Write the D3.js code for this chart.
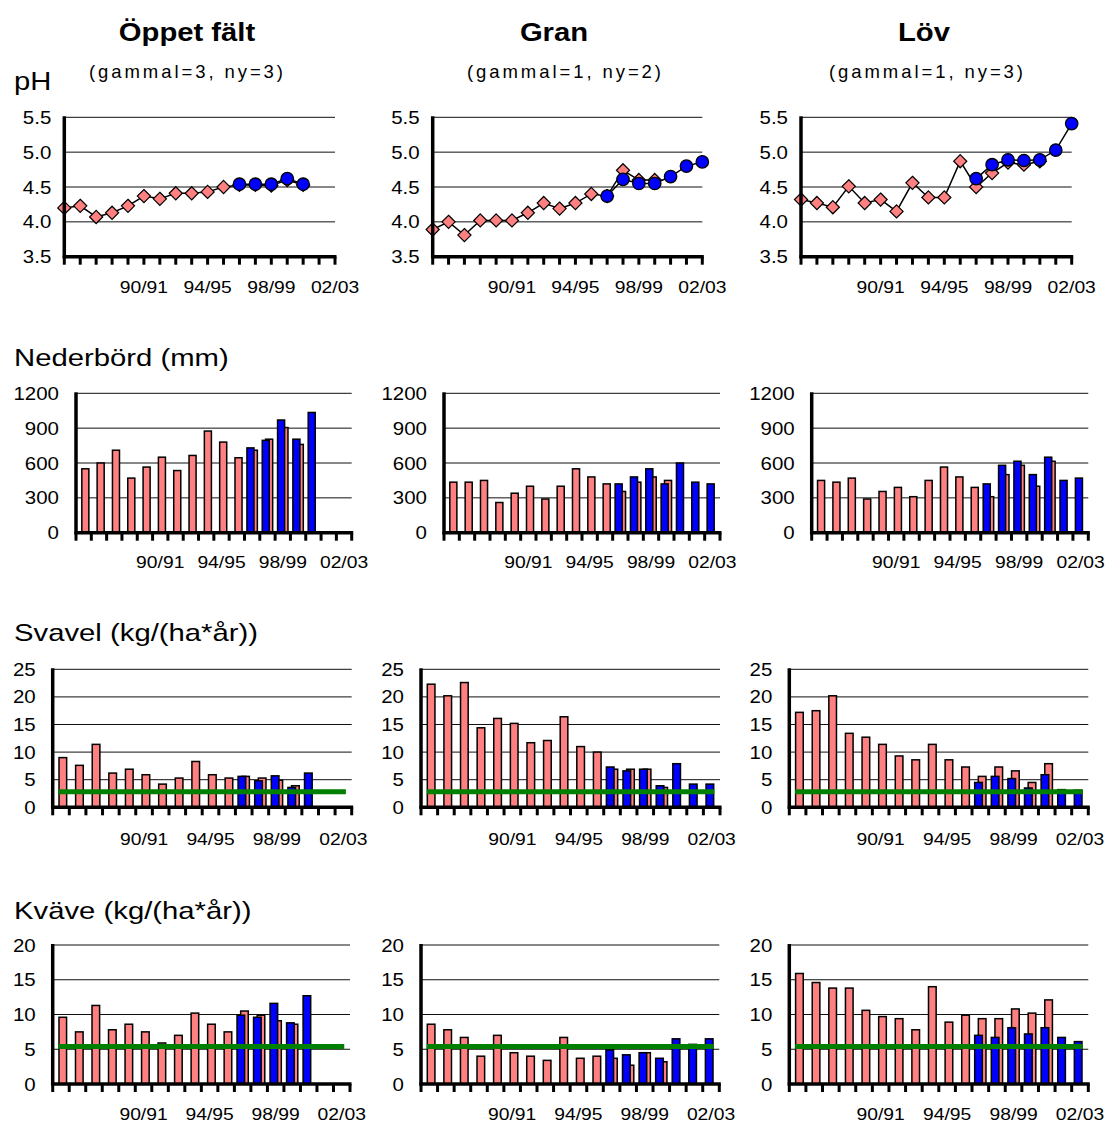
<!DOCTYPE html>
<html><head><meta charset="utf-8">
<script src="https://cdn.jsdelivr.net/npm/d3@7"></script>
<style>body{margin:0;background:#fff}</style>
</head><body>
<svg id="c" width="1108" height="1124"></svg>
<script>
// ---------------- DATA ----------------
const categories = ["85/86","86/87","87/88","88/89","89/90","90/91","91/92","92/93","93/94","94/95","95/96","96/97","97/98","98/99","99/00","00/01","01/02","02/03"];
const tickLabels = ["90/91","94/95","98/99","02/03"];
const siteTitles = ["Öppet fält","Gran","Löv"];
const siteSubtitles = ["(gammal=3, ny=3)","(gammal=1, ny=2)","(gammal=1, ny=3)"];
const rowTitles = ["pH","Nederbörd (mm)","Svavel (kg/(ha*år))","Kväve (kg/(ha*år))"];
const N = null;

const phTicks = [3.5,4.0,4.5,5.0,5.5];
const nedTicks = [0,300,600,900,1200];
const svTicks = [0,5,10,15,20,25];
const kvTicks = [0,5,10,15,20];

// pH
const phOppetGammal = [4.20,4.23,4.07,4.13,4.23,4.37,4.33,4.41,4.41,4.43,4.50,4.53,4.53,4.52,4.60,4.53,N,N];
const phOppetNy     = [N,N,N,N,N,N,N,N,N,N,N,4.54,4.54,4.54,4.62,4.54,N,N];
const phGranGammal  = [3.89,4.00,3.81,4.02,4.02,4.02,4.13,4.27,4.19,4.27,4.40,4.37,4.74,4.60,4.60,N,N,N];
const phGranNy      = [N,N,N,N,N,N,N,N,N,N,N,4.37,4.61,4.55,4.55,4.65,4.80,4.86];
const phLovGammal   = [4.32,4.27,4.21,4.51,4.27,4.32,4.15,4.56,4.35,4.35,4.87,4.50,4.70,4.85,4.82,4.87,N,N];
const phLovNy       = [N,N,N,N,N,N,N,N,N,N,N,4.62,4.82,4.89,4.88,4.89,5.03,5.41];

// Nederbörd (mm)
const nedOppetGammal = [550,600,710,470,565,650,535,665,875,780,645,710,805,905,760,N,N,N];
const nedOppetNy     = [N,N,N,N,N,N,N,N,N,N,N,730,795,970,805,1035,N,N];
const nedGranGammal  = [435,435,450,260,340,400,290,400,550,480,420,355,435,480,450,N,N,N];
const nedGranNy      = [N,N,N,N,N,N,N,N,N,N,N,420,480,550,420,600,435,420];
const nedLovGammal   = [450,435,470,290,355,390,310,450,565,480,390,310,500,580,400,615,N,N];
const nedLovNy       = [N,N,N,N,N,N,N,N,N,N,N,420,580,615,500,650,450,470];

// Svavel (kg/(ha*år))
const svOppetGammal = [9.0,7.6,11.4,6.2,6.9,5.9,4.2,5.3,8.3,5.9,5.3,5.6,5.3,4.9,3.9,N,N,N];
const svOppetNy     = [N,N,N,N,N,N,N,N,N,N,N,5.6,4.8,5.7,3.6,6.2,N,N];
const svGranGammal  = [22.3,20.2,22.6,14.4,16.1,15.2,11.7,12.1,16.4,11.0,10.0,6.9,6.9,6.9,3.6,N,N,N];
const svGranNy      = [N,N,N,N,N,N,N,N,N,N,N,7.3,6.6,6.9,3.9,7.9,4.2,4.2];
const svLovGammal   = [17.2,17.5,20.2,13.4,12.7,11.4,9.3,8.6,11.4,8.6,7.3,5.6,7.3,6.6,4.5,7.9,N,N];
const svLovNy       = [N,N,N,N,N,N,N,N,N,N,N,4.5,5.6,5.2,3.5,5.9,3.2,3.1];
const svLimit = 2.8;

// Kväve (kg/(ha*år))
const kvOppetGammal = [9.6,7.5,11.3,7.8,8.6,7.5,5.9,7.0,10.2,8.6,7.5,10.5,9.9,9.1,8.6,N,N,N];
const kvOppetNy     = [N,N,N,N,N,N,N,N,N,N,N,9.9,9.6,11.6,8.8,12.7,N,N];
const kvGranGammal  = [8.6,7.8,6.7,4.0,7.0,4.5,4.0,3.4,6.7,3.7,4.0,3.7,2.7,4.5,3.2,N,N,N];
const kvGranNy      = [N,N,N,N,N,N,N,N,N,N,N,4.9,4.2,4.5,3.7,6.5,5.7,6.5];
const kvLovGammal   = [15.9,14.6,13.8,13.8,10.6,9.7,9.4,7.8,14.0,8.9,9.9,9.4,9.4,10.8,10.2,12.1,N,N];
const kvLovNy       = [N,N,N,N,N,N,N,N,N,N,N,7.0,6.7,8.1,7.2,8.1,6.7,6.1];
const kvLimit = 5.4;

// ---------------- LAYOUT ----------------
const FONT = "'Liberation Sans', Arial, sans-serif";
const SX = 1.17; // horizontal stretch of text seen in the reference
const PINK = "#FF8080", BLUE = "#0000FF", GREEN = "#008000";

const svg = d3.select("#c");

function txt(x, y, s, size, anchor, weight, sx) {
  return svg.append("text")
    .attr("transform", `translate(${x},${y}) scale(${sx == null ? SX : sx},1)`)
    .attr("text-anchor", anchor || "start")
    .attr("font-family", FONT)
    .attr("font-size", size)
    .attr("font-weight", weight || "normal")
    .attr("fill", "#000")
    .text(s);
}

// titles
const titleX = [187, 554, 924];
const subX = [186, 564, 926];
siteTitles.forEach((t, i) => txt(titleX[i], 41, t, 25, "middle", "bold"));
siteSubtitles.forEach((t, i) => {
  txt(subX[i] - 97, 78, t, 18.5, "start", "normal", 1)
    .attr("textLength", 194).attr("lengthAdjust", "spacing");
});

const rowTitleY = [90, 366, 641, 919];
rowTitles.forEach((t, i) => txt(14, rowTitleY[i], t, i === 0 ? 25 : 24, "start", "normal", i === 0 ? 1.17 : 1.22));

const rows = [
  {kind: "line", axisX: [64.3, 432.7, 801], rightX: [335, 702.3, 1071.7], top: 117.3, bottom: 256.7,
   domain: [3.5, 5.5], ticks: phTicks, fmt: d3.format(".1f"), gap: 13, labelY: 293,
   data: [[phOppetGammal, phOppetNy], [phGranGammal, phGranNy], [phLovGammal, phLovNy]]},
  {kind: "bar", axisX: [76, 444, 811.7], rightX: [351.7, 720, 1088.3], top: 393.3, bottom: 532.7,
   domain: [0, 1200], ticks: nedTicks, fmt: d3.format("d"), gap: 17, labelY: 568,
   data: [[nedOppetGammal, nedOppetNy], [nedGranGammal, nedGranNy], [nedLovGammal, nedLovNy]]},
  {kind: "bar", axisX: [52.7, 421, 789.3], rightX: [351.7, 720, 1088.3], top: 669.3, bottom: 807.3,
   domain: [0, 25], ticks: svTicks, fmt: d3.format("d"), gap: 17, labelY: 845, limit: svLimit,
   data: [[svOppetGammal, svOppetNy], [svGranGammal, svGranNy], [svLovGammal, svLovNy]]},
  {kind: "bar", axisX: [52.7, 421, 789.3], rightX: [350, 719.3, 1088.3], top: 945, bottom: 1084,
   domain: [0, 20], ticks: kvTicks, fmt: d3.format("d"), gap: 17, labelY: 1120, limit: kvLimit,
   data: [[kvOppetGammal, kvOppetNy], [kvGranGammal, kvGranNy], [kvLovGammal, kvLovNy]]}
];

rows.forEach(row => {
  for (let c = 0; c < 3; c++) {
    const x0 = row.axisX[c], x1 = row.rightX[c];
    const y = d3.scaleLinear().domain(row.domain).range([row.bottom, row.top]);
    const g = svg.append("g");
    const [gammal, ny] = row.data[c];

    // gridlines
    g.selectAll(".grid").data(row.ticks.filter(t => t !== row.domain[0])).join("line")
      .attr("x1", x0).attr("x2", x1).attr("y1", d => y(d)).attr("y2", d => y(d))
      .attr("stroke", "#111").attr("stroke-width", 1);

    // y labels
    row.ticks.forEach(t => {
      txt(x0 - row.gap, y(t) + 6.5, row.fmt(t), 17.5, "end");
    });

    let xPos, tickXs;
    if (row.kind === "line") {
      const x = d3.scalePoint().domain(categories).range([x0, x1]);
      xPos = cat => x(cat);
      tickXs = categories.map(cat => x(cat));

      const line = d3.line().defined(d => d.v != null).x(d => x(d.c)).y(d => y(d.v));
      [gammal, ny].forEach(series => {
        const pts = categories.map((cat, i) => ({c: cat, v: series[i]}));
        g.append("path").attr("d", line(pts)).attr("fill", "none")
          .attr("stroke", "#000").attr("stroke-width", 1.5);
      });
      const gp = categories.map((cat, i) => ({c: cat, v: gammal[i]})).filter(d => d.v != null);
      g.selectAll(".dia").data(gp).join("path")
        .attr("d", d3.symbol(d3.symbolDiamond2 || d3.symbolDiamond, 110))
        .attr("transform", d => `translate(${x(d.c)},${y(d.v)})`)
        .attr("fill", PINK).attr("stroke", "#000").attr("stroke-width", 1.2);
      const np = categories.map((cat, i) => ({c: cat, v: ny[i]})).filter(d => d.v != null);
      g.selectAll(".dot").data(np).join("circle")
        .attr("cx", d => x(d.c)).attr("cy", d => y(d.v)).attr("r", 6.2)
        .attr("fill", BLUE).attr("stroke", "#000").attr("stroke-width", 1.3);
    } else {
      const x = d3.scaleBand().domain(categories).range([x0, x1]).padding(0);
      const bw = x.bandwidth();
      xPos = cat => x(cat) + bw / 2;
      tickXs = categories.map(cat => x(cat)).concat([x1]);

      const gp = categories.map((cat, i) => ({c: cat, v: gammal[i]})).filter(d => d.v != null);
      g.selectAll(".pb").data(gp).join("rect")
        .attr("x", d => x(d.c) + 0.38 * bw).attr("width", 0.46 * bw)
        .attr("y", d => y(d.v)).attr("height", d => y(0) - y(d.v))
        .attr("fill", PINK).attr("stroke", "#000").attr("stroke-width", 1.5);
      const np = categories.map((cat, i) => ({c: cat, v: ny[i]})).filter(d => d.v != null);
      g.selectAll(".bb").data(np).join("rect")
        .attr("x", d => x(d.c) + 0.16 * bw).attr("width", 0.46 * bw)
        .attr("y", d => y(d.v)).attr("height", d => y(0) - y(d.v))
        .attr("fill", BLUE).attr("stroke", "#000").attr("stroke-width", 1.5);

      if (row.limit != null) {
        const lp = categories.map(cat => ({c: cat, v: row.limit}));
        g.append("path")
          .attr("d", d3.line().x(d => xPos(d.c)).y(d => y(d.v))(lp))
          .attr("fill", "none").attr("stroke", GREEN).attr("stroke-width", 5)
          .attr("stroke-linecap", "square");
      }
    }

    // axes
    g.append("line").attr("x1", x0).attr("x2", x0).attr("y1", row.top - 1).attr("y2", row.bottom + 1.5)
      .attr("stroke", "#000").attr("stroke-width", 3.5);
    g.append("line").attr("x1", x0 - 1.5).attr("x2", x1 + 1.5).attr("y1", row.bottom).attr("y2", row.bottom)
      .attr("stroke", "#000").attr("stroke-width", 3.5);
    g.selectAll(".tk").data(tickXs).join("line")
      .attr("x1", d => d).attr("x2", d => d).attr("y1", row.bottom).attr("y2", row.bottom + 8)
      .attr("stroke", "#000").attr("stroke-width", 3);

    // x labels
    tickLabels.forEach(lbl => {
      txt(xPos(lbl), row.labelY, lbl, 16.5, "middle");
    });
  }
});
</script>
</body></html>
